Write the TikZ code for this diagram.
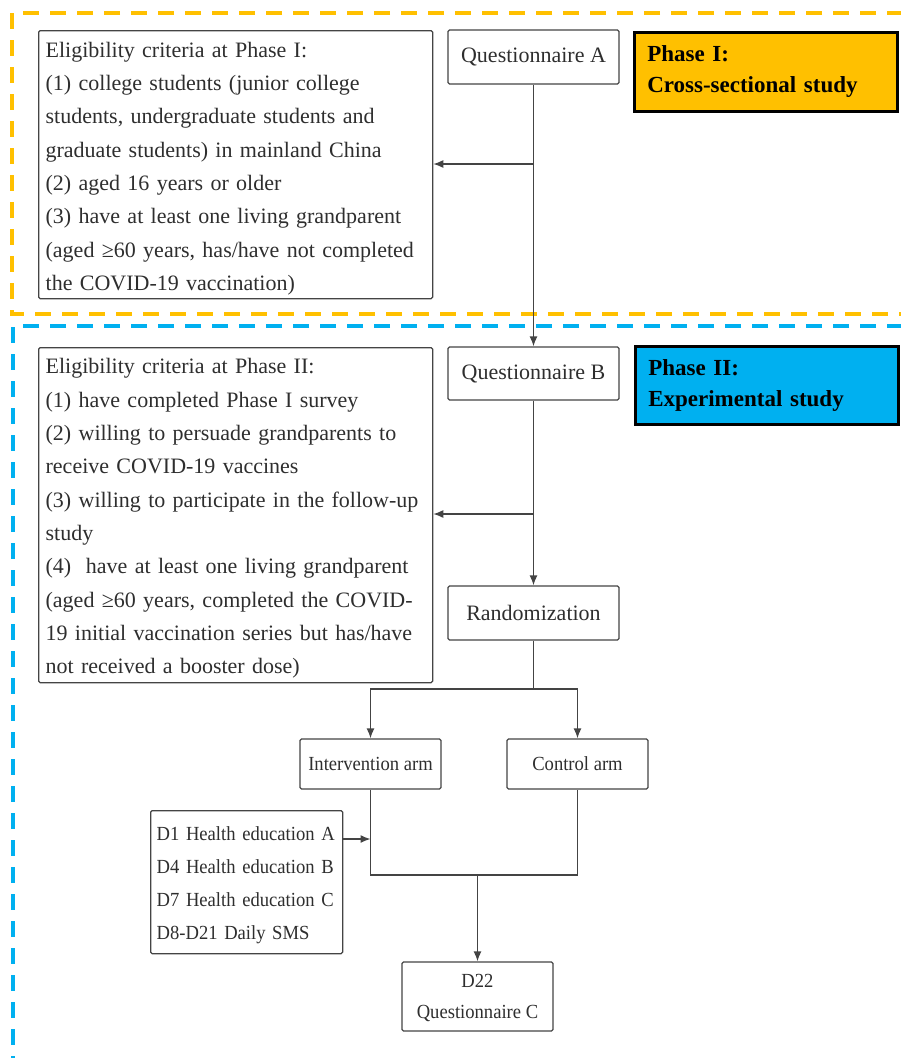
\documentclass[tikz,border=0pt]{standalone}
\usepackage{fontspec}
\setmainfont{Liberation Serif}
\newfontfamily\condfont[FakeStretch=0.93]{Liberation Serif}
\usetikzlibrary{arrows.meta}
\definecolor{txtgray}{HTML}{2E2E2E}
\definecolor{linegray}{HTML}{444444}
\definecolor{phaseorange}{HTML}{FFC000}
\definecolor{phaseblue}{HTML}{00B0F0}
\tikzset{
  box/.style={draw=linegray, line width=1.3pt, rounded corners=1.5pt, text=txtgray, inner sep=0pt},
  bigtext/.style={font=\fontsize{22}{33.3}\selectfont},
  smalltext/.style={font=\condfont\fontsize{20}{33}\selectfont},
  listbox/.style={box, align=left, inner xsep=7pt, inner ysep=0pt},
  phasebox/.style={draw=black, line width=2.5pt, text=black, align=left, inner xsep=13pt, inner ysep=0pt,
                   font=\bfseries\fontsize{23}{31}\selectfont},
  arr/.style={draw=linegray, line width=1.3pt, -{Latex[length=10pt,width=8pt]}},
  conn/.style={draw=linegray, line width=1.3pt},
  orangedash/.style={draw=phaseorange, line width=3.5pt, dash pattern=on 16pt off 11pt},
  bluedash/.style={draw=phaseblue, line width=3.5pt, dash pattern=on 16pt off 11pt}
}
\begin{document}
\begin{tikzpicture}[x=1pt,y=-1pt]
\useasboundingbox (0,0) rectangle (901,1058);
\begin{scope}
  \clip (0,0) rectangle (901,1058);
  \draw[orangedash] (930,13) -- (12,13) -- (12,314) -- (930,314);
  \draw[bluedash] (930,326) -- (13,326) -- (13,1080);
\end{scope}

% Phase I
\node[listbox, bigtext, anchor=north west, text width=380pt, minimum height=268pt] (e1) at (38,30)
{\rule{0pt}{23pt}Eligibility criteria at Phase I:\\
(1) college students (junior college\\
students, undergraduate students and\\
graduate students) in mainland China\\
(2) aged 16 years or older\\
(3) have at least one living grandparent\\
(aged ≥60 years, has/have not completed\\
the COVID-19 vaccination)};

\node[box, bigtext, minimum width=171pt, minimum height=54pt] (qa) at (533.5,57) {Questionnaire A};

\node[phasebox, fill=phaseorange, anchor=north west, text width=237pt, minimum height=79pt] (p1) at (633,31)
{Phase I:\\Cross-sectional study};

% Phase II
\node[listbox, bigtext, anchor=north west, text width=380pt, minimum height=335pt] (e2) at (38,347)
{\rule{0pt}{22pt}Eligibility criteria at Phase II:\\
(1) have completed Phase I survey\\
(2) willing to persuade grandparents to\\
receive COVID-19 vaccines\\
(3) willing to participate in the follow-up\\
study\\
(4)\ \ have at least one living grandparent\\
(aged ≥60 years, completed the COVID-\\
19 initial vaccination series but has/have\\
not received a booster dose)};

\node[box, bigtext, minimum width=171pt, minimum height=53pt] (qb) at (533.5,373.5) {Questionnaire B};

\node[phasebox, fill=phaseblue, anchor=north west, text width=237pt, minimum height=78pt] (p2) at (634,345)
{Phase II:\\Experimental study};

\node[box, bigtext, minimum width=171pt, minimum height=54pt] (rand) at (533.5,613) {Randomization};

\node[box, smalltext, minimum width=141pt, minimum height=50pt] (int) at (370.5,764) {Intervention arm};
\node[box, smalltext, minimum width=141pt, minimum height=50pt] (ctl) at (577.5,764) {Control arm};

\node[box, smalltext, align=left, anchor=north west, text width=180pt, inner xsep=6pt,
      minimum height=143pt] (hl) at (150,810)
{\rule{0pt}{20pt}D1 Health education A\\
D4 Health education B\\
D7 Health education C\\
D8-D21 Daily SMS};

\node[box, smalltext, align=center, minimum width=151pt, minimum height=69pt,
      font=\condfont\fontsize{20}{31}\selectfont] (d22) at (477.5,996.5)
{\rule{0pt}{17pt}D22\\Questionnaire C};

% connectors
\coordinate (j1) at (533.5,164);
\coordinate (j2) at (533.5,514);
\coordinate (split) at (533.5,689);
\coordinate (merge) at (477.5,875);
\coordinate (hin) at (370.5,839);

\draw[arr] (qa.south) -- (qb.north);
\draw[arr] (j1) -- (j1 -| e1.east);
\draw[arr] (qb.south) -- (rand.north);
\draw[arr] (j2) -- (j2 -| e2.east);
\draw[conn] (rand.south) -- (split);
\draw[arr] (split) -| (int.north);
\draw[arr] (split) -| (ctl.north);
\draw[conn] (int.south) |- (merge) -| (ctl.south);
\draw[arr] (merge) -- (d22.north);
\draw[arr] (hin -| hl.east) -- (hin);
\end{tikzpicture}
\end{document}
